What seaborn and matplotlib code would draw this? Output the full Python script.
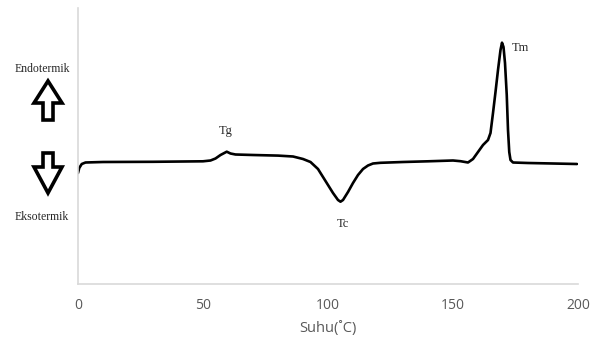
import numpy as np
import pandas as pd
import matplotlib
matplotlib.use("Agg")
import matplotlib.pyplot as plt
import seaborn as sns
from matplotlib.patches import Polygon
from matplotlib.transforms import IdentityTransform

# Temperature (°C) and relative heat flow (arbitrary units, endothermic up)
suhu = [0, 0.5, 1.5, 3, 10, 30, 50, 53, 55, 57, 59.5, 61, 63, 70, 80, 86, 90, 93,
        96, 98, 100, 102, 104, 105, 106, 108, 110, 112, 114, 116, 118, 121, 130,
        140, 150, 153, 156, 158, 160, 162, 164, 165, 166, 167, 168, 169, 169.6,
        170.2, 170.8, 171.5, 172, 172.5, 173, 174, 180, 190, 199.6]
heat_px = [173, 168, 164, 162.5, 162, 161.8, 161.3, 160.5, 158.5, 155, 151.7,
           153.5, 154.5, 155, 155.6, 156.5, 159, 162, 169, 177, 185, 193, 200,
           201.7, 200, 192, 183, 175, 169, 165.5, 163.5, 162.8, 162, 161.3, 160.5,
           161.2, 162.5, 159, 152, 145, 140, 133, 113, 92, 70, 50, 42.7, 47, 63,
           95, 130, 152, 160, 162.5, 163, 163.5, 164]
heat = [284 - v for v in heat_px]

x_ticks = [0, 50, 100, 150, 200]
x_label = "Suhu(˚C)"
labels = {"Tg": (59.5, 153), "Tc": (106, 60), "Tm": (177, 236)}

df = pd.DataFrame({"suhu": suhu, "heat": heat})

sns.set_style("white")
W, H = 604, 343
fig = plt.figure(figsize=(W / 100, H / 100), dpi=100)
ax = fig.add_axes([78 / W, 1 - 284 / H, 500 / W, 276 / H])

sns.lineplot(data=df, x="suhu", y="heat", ax=ax, color="black", linewidth=1.9)

ax.set_xlim(0, 200)
ax.set_ylim(0, 276)
ax.set_xticks(x_ticks)
ax.set_yticks([])
ax.set_ylabel("")
ax.set_xlabel(x_label, fontsize=10.5, color="#595959", family="Open Sans", labelpad=6)
ax.tick_params(axis="x", length=0, labelsize=10, labelcolor="#595959", pad=10)
for lab in ax.get_xticklabels():
    lab.set_family("Open Sans")
for s in ["top", "right"]:
    ax.spines[s].set_visible(False)
for s in ["left", "bottom"]:
    ax.spines[s].set_color("#d9d9d9")
    ax.spines[s].set_linewidth(1.2)

serif = "Liberation Serif"
ax.text(labels["Tg"][0] - 0.5, labels["Tg"][1], "Tg", fontsize=9, family=serif, ha="center", va="center")
ax.text(labels["Tc"][0], labels["Tc"][1], "Tc", fontsize=9, family=serif, ha="center", va="center")
ax.text(labels["Tm"][0], labels["Tm"][1], "Tm", fontsize=9, family=serif, ha="center", va="center")

fig.text(42 / W, 1 - 69 / H, "Endotermik", fontsize=8.5, family=serif, ha="center", va="center")
fig.text(42 / W, 1 - 217 / H, "Eksotermik", fontsize=8.5, family=serif, ha="center", va="center")

def flip(pts):
    return [(x, H - y) for x, y in pts]

up = [(48, 81), (62, 103), (53, 103), (53, 120), (43, 120), (43, 103), (34, 103)]
down = [(43, 153), (53, 153), (53, 167), (62, 167), (48, 193), (34, 167), (43, 167)]
for pts in (up, down):
    fig.patches.append(Polygon(flip(pts), closed=True, facecolor="white",
                               edgecolor="black", linewidth=2.6,
                               transform=IdentityTransform(), figure=fig))

fig.savefig("out.png", dpi=100)
